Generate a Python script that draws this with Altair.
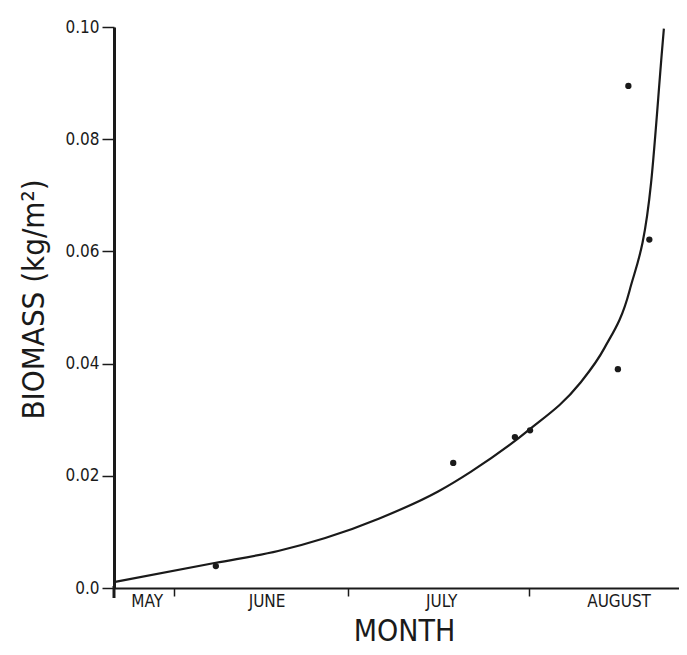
import altair as alt
import pandas as pd

# Observed points (day counted from 1 May; value in kg/m^2)
obs_day = [38.2, 79.0, 89.6, 92.2, 107.3, 109.1, 112.7]
obs_biomass = [0.0039, 0.0223, 0.0269, 0.0281, 0.0390, 0.0895, 0.0621]

# Fitted curve
curve_day = [20.9, 38.2, 48.9, 57.0, 66.3, 76.4, 82.0, 91.9, 100.7, 105.0, 109.3, 113.0, 114.9, 115.2]
curve_biomass = [0.0011, 0.0045, 0.0066, 0.0089, 0.0124, 0.0172, 0.0207, 0.0281, 0.0364, 0.0428, 0.0530, 0.0722, 0.0960, 0.0997]

# Month labels (centred in each month) and month boundaries
month_names = ["MAY", "JUNE", "JULY", "AUGUST"]
month_label_day = [26.4, 47.0, 77.0, 107.5]
month_bounds = [31, 61, 92]
y_ticks = [0.0, 0.02, 0.04, 0.06, 0.08, 0.10]

FONT = "Liberation Sans Narrow, DejaVu Sans Condensed, Roboto Condensed, Arial Narrow, sans-serif"
INK = "#1a1a1a"
W, H = 565, 561

obs = pd.DataFrame({"day": obs_day, "val": obs_biomass})
curve = pd.DataFrame({"day": curve_day, "val": curve_biomass})
months = pd.DataFrame({"day": month_label_day, "name": month_names})

xscale = alt.Scale(domain=[20.7, 117.8], nice=False, zero=False)
yscale = alt.Scale(domain=[0, 0.1], nice=False)

x_enc = alt.X(
    "day:Q", scale=xscale,
    axis=alt.Axis(
        values=month_bounds, labels=False, grid=False,
        tickSize=8, tickWidth=1.5, tickColor=INK,
        domainWidth=2, domainColor=INK,
        title="MONTH", titleFont=FONT, titleFontSize=30, titleFontWeight="normal",
        titleColor=INK, titleX=290, titleY=52, titleAlign="center",
        titleBaseline="alphabetic",
    ),
)
y_enc = alt.Y(
    "val:Q", scale=yscale,
    axis=alt.Axis(
        values=y_ticks, grid=False,
        labelExpr="datum.value == 0 ? '0.0' : format(datum.value, '.2f')",
        labelFont=FONT, labelFontSize=17, labelColor=INK, labelPadding=3,
        tickSize=12, tickWidth=1.5, tickColor=INK,
        domainWidth=3, domainColor=INK,
        title="BIOMASS (kg/m²)", titleFont=FONT, titleFontSize=31,
        titleFontWeight="normal", titleColor=INK, titleX=-80, titleY=272,
        titleAngle=270, titleAlign="center", titleBaseline="middle",
    ),
)

line = alt.Chart(curve).mark_line(
    color=INK, strokeWidth=2.2, interpolate="monotone", clip=True
).encode(x=x_enc, y=y_enc)

pts = alt.Chart(obs).mark_circle(color=INK, opacity=1, size=40).encode(
    x=alt.X("day:Q", scale=xscale), y=alt.Y("val:Q", scale=yscale)
)

labels = alt.Chart(months).mark_text(
    font=FONT, fontSize=17, color=INK, baseline="middle", align="center"
).encode(x=alt.X("day:Q", scale=xscale), y=alt.value(H + 14), text="name:N")

ext = alt.Chart(pd.DataFrame({"a": [0]})).mark_rule(
    color=INK, strokeWidth=3
).encode(x=alt.value(0), y=alt.value(H - 2), y2=alt.value(H + 10))

chart = alt.layer(line, pts, labels, ext).properties(
    width=W, height=H,
    autosize=alt.AutoSizeParams(type="none"),
    padding={"left": 106, "top": 19, "right": 0, "bottom": 59},
    background="white",
).configure_view(stroke=None)

chart.save("out.html", embed_options={"renderer": "svg", "actions": False})
